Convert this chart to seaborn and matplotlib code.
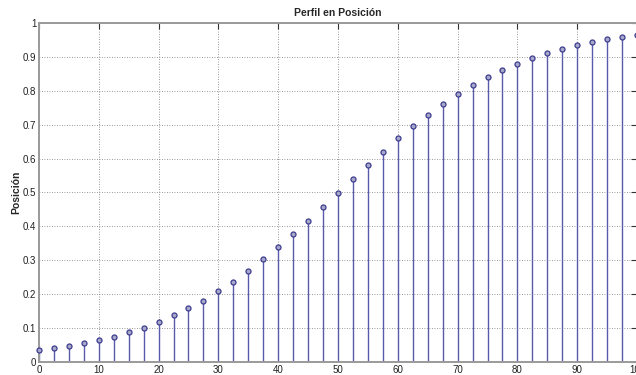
import matplotlib
matplotlib.use("Agg")
import matplotlib.pyplot as plt
import numpy as np
import pandas as pd
import seaborn as sns

# data
tiempo = [0, 2.5, 5, 7.5, 10, 12.5, 15, 17.5, 20, 22.5, 25, 27.5, 30, 32.5, 35,
          37.5, 40, 42.5, 45, 47.5, 50, 52.5, 55, 57.5, 60, 62.5, 65, 67.5, 70,
          72.5, 75, 77.5, 80, 82.5, 85, 87.5, 90, 92.5, 95, 97.5, 100]
posicion = [0.035, 0.040, 0.047, 0.056, 0.064, 0.075, 0.087, 0.101, 0.118,
            0.138, 0.158, 0.181, 0.209, 0.237, 0.268, 0.303, 0.338, 0.377,
            0.417, 0.458, 0.499, 0.541, 0.582, 0.620, 0.660, 0.695, 0.730,
            0.761, 0.790, 0.816, 0.840, 0.861, 0.880, 0.897, 0.910, 0.923,
            0.934, 0.943, 0.952, 0.959, 0.965]
x_ticks = [0, 10, 20, 30, 40, 50, 60, 70, 80, 90, 100]
y_ticks = [0, 0.1, 0.2, 0.3, 0.4, 0.5, 0.6, 0.7, 0.8, 0.9, 1]
y_labels = ["0", "0.1", "0.2", "0.3", "0.4", "0.5", "0.6", "0.7", "0.8", "0.9", "1"]

df = pd.DataFrame({"t": tiempo, "pos": posicion})

sns.set_style("white")
plt.rcParams["font.family"] = ["Liberation Sans", "DejaVu Sans"]

fig = plt.figure(figsize=(6.36, 3.75), dpi=100)
ax = fig.add_axes([0.0613, 0.0347, 0.9403, 0.904])

stem_color = "#5a5aaa"
ax.vlines(df["t"], 0, df["pos"], color=stem_color, linewidth=1.0, zorder=2)
sns.scatterplot(data=df, x="t", y="pos", ax=ax, marker="o", s=13,
                facecolor="#a8a8c8", edgecolor="#3c3c90", linewidth=0.9,
                zorder=3, clip_on=False)

ax.set_xlim(0, 100)
ax.set_ylim(0, 1)
ax.set_xticks(x_ticks)
ax.set_yticks(y_ticks)
ax.set_yticklabels(y_labels)
ax.tick_params(direction="in", length=4, width=0.8, color="#333333",
               labelsize=7, labelcolor="#222222", pad=2,
               top=True, right=True)
ax.grid(True, linestyle=(0, (1, 2)), color="#777777", linewidth=0.6)
ax.set_axisbelow(True)
for s in ax.spines.values():
    s.set_color("#9a9a9a")
    s.set_linewidth(1.4)

ax.set_xlabel("")
ax.set_ylabel("Posición", fontsize=7.5, fontweight="bold", labelpad=1)
ax.set_title("Perfil en Posición", fontsize=7.5, fontweight="bold", pad=5)

fig.savefig("out.png", dpi=100)
